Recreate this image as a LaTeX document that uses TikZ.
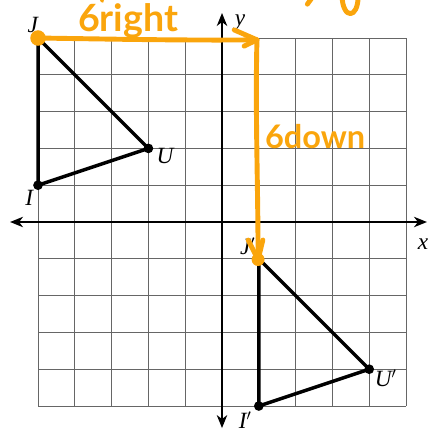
\documentclass[tikz,border=0pt]{standalone}
\usepackage{fontspec}
\usepackage{graphicx}
\setmainfont{Liberation Serif}
\newfontfamily\handfont{Lato}
\usetikzlibrary{arrows.meta}
\definecolor{hand}{RGB}{250,165,12}
\begin{document}
\begin{tikzpicture}[
  gridline/.style={black!60, line width=0.6pt},
  axisline/.style={line width=1.5pt, {Stealth[length=10pt,width=8pt,inset=3pt]}-{Stealth[length=10pt,width=8pt,inset=3pt]}},
  tri/.style={line width=2.7pt, line join=round},
  vdot/.style={circle, fill=black, inner sep=0pt, minimum size=7.5pt},
  lab/.style={font=\fontsize{18}{20}\selectfont\itshape, inner sep=0pt},
  ink/.style={hand, line width=3.8pt, line cap=round, line join=round},
  inkdot/.style={circle, fill=hand, inner sep=0pt, minimum size=12pt},
  inktext/.style={hand, inner sep=0pt, font=\handfont\bfseries}
]
\useasboundingbox (-6.033,-5.788) rectangle (5.598,6.033);
% grid
\draw[gridline] (-5,-5) grid (5,5);
% axes
\coordinate (xl) at (-5.76,0);
\coordinate (xr) at (5.57,0);
\coordinate (yt) at (0,5.68);
\coordinate (yb) at (0,-5.6);
\draw[axisline] (xl) -- (xr);
\draw[axisline] (yb) -- (yt);
\node[lab] (ylab) at (0.49,5.43) {y};
\node[lab] (xlab) at (5.46,-0.6) {x};
% original triangle
\node[vdot] (J) at (-5,5) {};
\node[vdot] (U) at (-2,2) {};
\node[vdot] (I) at (-5,1) {};
\draw[tri] (J.center) -- (U.center) -- (I.center) -- cycle;
\node[lab] (Jl) at (-5.14,5.35) {J};
\node[lab] (Ul) at (-1.55,1.8) {U};
\node[lab] (Il) at (-5.24,0.65) {I};
% image triangle
\node[vdot] (J2) at (1,-1) {};
\node[vdot] (U2) at (4,-4) {};
\node[vdot] (I2) at (1,-5) {};
\draw[tri] (J2.center) -- (U2.center) -- (I2.center) -- cycle;
\node[lab] (J2l) at (0.7,-0.66) {J$'$};
\node[lab] (U2l) at (4.45,-4.24) {U$'$};
\node[lab] (I2l) at (0.63,-5.38) {I$'$};
% orange annotations
\node[inkdot] (Jink) at (J.center) {};
\node[inkdot, minimum size=10pt] (J2ink) at (0.98,-1.02) {};
\coordinate (corner) at (0.95,4.95);
\draw[ink] (Jink.center) .. controls (-3,4.97) and (-1,4.93) .. (corner);
\draw[ink] (0.33,5.22) -- (corner) -- (0.6,4.78);
\draw[ink] (corner) .. controls (0.9,3) and (0.98,1) .. (J2ink.center);
\draw[ink] (0.71,-0.49) -- (J2ink.center) -- (1.11,-0.49);
\node[inktext] (right) at (-2.55,5.47) {\resizebox{2.72cm}{!}{6right}};
\node[inktext] (down) at (2.53,2.33) {\resizebox{2.72cm}{!}{6down}};
% cut-off handwriting at the top edge
\draw[ink] (3.26,6.15) .. controls (3.28,5.5) and (3.7,5.5) .. (3.7,6.15);
\draw[ink] (2.45,6.1) -- (2.32,5.92);
\draw[ink, line width=2.5pt] (-3.3,6.1) -- (-3.25,6.0);
\end{tikzpicture}
\end{document}
